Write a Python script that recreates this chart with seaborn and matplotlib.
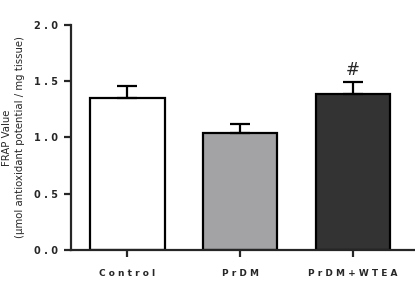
import matplotlib
matplotlib.use("Agg")
import matplotlib.pyplot as plt
import numpy as np
import pandas as pd
import seaborn as sns

# data
groups = ["Control", "PrDM", "PrDM+WTEA"]
frap_mean = [1.35, 1.04, 1.39]
frap_sem = [0.11, 0.08, 0.10]
bar_colors = ["#ffffff", "#a3a3a6", "#333333"]
sig_marks = ["", "", "#"]
y_ticks = [0.0, 0.5, 1.0, 1.5, 2.0]


def spaced(s):
    return " ".join(s)


sns.set_style("ticks")
plt.rcParams['font.family'] = ['DejaVu Sans']

df = pd.DataFrame({"group": groups, "frap": frap_mean})

fig = plt.figure(figsize=(4.15, 2.91), dpi=100)
ax = fig.add_axes([0.171, 0.141, 0.829, 0.773])

sns.barplot(data=df, x="group", y="frap", hue="group", palette=bar_colors,
            legend=False, width=0.66, edgecolor="black", linewidth=1.6,
            errorbar=None, ax=ax, zorder=2)

x = np.arange(len(groups))
ax.errorbar(x, frap_mean, yerr=[np.zeros(len(groups)), frap_sem], fmt="none",
            ecolor="black", elinewidth=1.6, capsize=7, capthick=1.6, zorder=3)

for xi, m, s, mark in zip(x, frap_mean, frap_sem, sig_marks):
    if mark:
        ax.text(xi, m + s + 0.03, mark, ha="center", va="bottom", fontsize=12)

ax.set_xlim(-0.5, 2.55)
ax.set_ylim(0, 2.0)
ax.set_yticks(y_ticks)
ax.set_yticklabels([spaced(f"{t:.1f}") for t in y_ticks], fontsize=7, fontweight="bold")
ax.set_xticks(x)
ax.set_xticklabels([spaced(g) for g in groups], fontsize=6.5, fontweight="bold")
ax.set_xlabel("")
ax.set_ylabel("FRAP Value\n(µmol antioxidant potential / mg tissue)",
              fontsize=7.3, linespacing=1.3)
ax.yaxis.set_label_coords(-0.135, 0.5)

for side in ["top", "right"]:
    ax.spines[side].set_visible(False)
for side in ["left", "bottom"]:
    ax.spines[side].set_linewidth(1.6)
ax.tick_params(width=1.6, length=5, pad=4)
ax.tick_params(axis="x", pad=9)

fig.savefig("out.png", dpi=100)
